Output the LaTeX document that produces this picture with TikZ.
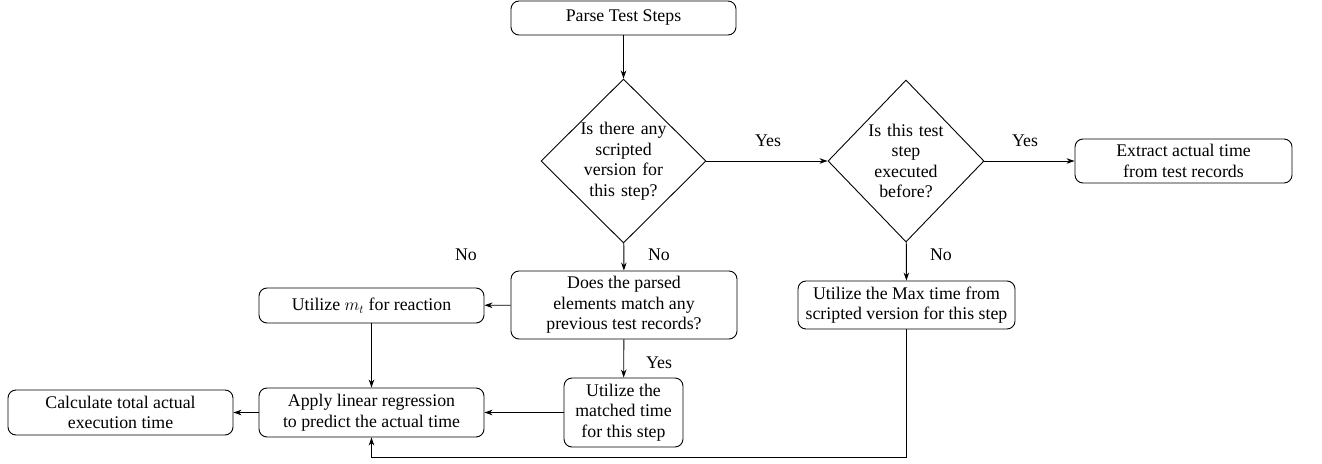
\documentclass[tikz,border=0pt]{standalone}
\usepackage{fontspec}
\setmainfont{Liberation Serif}
\usetikzlibrary{shapes.geometric,arrows.meta}
\begin{document}
\begin{tikzpicture}[x=1pt,y=-1pt,
  every node/.style={font=\fontsize{17.8}{20.5}\selectfont},
  box/.style={draw, rounded corners=8pt, align=center, inner sep=0pt, line width=0.9pt},
  dia/.style={draw, diamond, aspect=1, align=center, inner sep=0pt, line width=0.9pt},
  lbl/.style={inner sep=0pt},
  arr/.style={-{Stealth[length=8pt,width=5.5pt]}, line width=0.9pt},
  ln/.style={line width=0.9pt}]
\useasboundingbox (0,0) rectangle (1322,463);
\node[box, minimum width=225pt, minimum height=34pt] (parse) at (623.5,18) {Parse Test Steps};
\node[dia, text width=86pt, minimum width=165pt, minimum height=164pt] (d1) at (623.5,161) {Is there any\\scripted\\version for\\this step?};
\node[dia, text width=80pt, minimum width=156pt, minimum height=162pt] (d2) at (906,161) {Is this test\\step\\executed\\before?};
\node[box, minimum width=217pt, minimum height=44pt] (extract) at (1183.5,161) {Extract actual time\\from test records};
\node[box, minimum width=217pt, minimum height=48pt] (max) at (906.5,305) {Utilize the Max time from\\scripted version for this step};
\node[box, minimum width=226pt, minimum height=68pt] (does) at (624,305) {Does the parsed\\elements match any\\previous test records?};
\node[box, minimum width=225pt, minimum height=35pt] (mt) at (371.5,305.5) {Utilize $m_t$ for reaction};
\node[box, minimum width=119pt, minimum height=69pt] (matched) at (623.5,412.5) {Utilize the\\matched time\\for this step};
\node[box, minimum width=225pt, minimum height=49pt] (apply) at (371.5,412.5) {Apply linear regression\\to predict the actual time};
\node[box, minimum width=225pt, minimum height=45pt] (calc) at (120.5,412.5) {Calculate total actual\\execution time};
\coordinate (bot) at (906.5,457);

\draw[arr] (parse) -- (d1);
\draw[arr] (d1) -- (d2);
\draw[arr] (d2) -- (extract);
\draw[arr] (d2) -- (max);
\draw[arr] (d1) -- (does);
\draw[arr] (does) -- (mt);
\draw[arr] (does) -- (matched);
\draw[arr] (mt) -- (apply);
\draw[arr] (matched) -- (apply);
\draw[arr] (apply) -- (calc);
\draw[arr] (max.south) -- (bot) -| (apply.south);

\node[lbl] (y1) at (768,141) {Yes};
\node[lbl] (y2) at (1025,141) {Yes};
\node[lbl] (n1) at (941,255) {No};
\node[lbl] (n2) at (659,255) {No};
\node[lbl] (n3) at (466,255) {No};
\node[lbl] (y3) at (659,363) {Yes};
\end{tikzpicture}
\end{document}
